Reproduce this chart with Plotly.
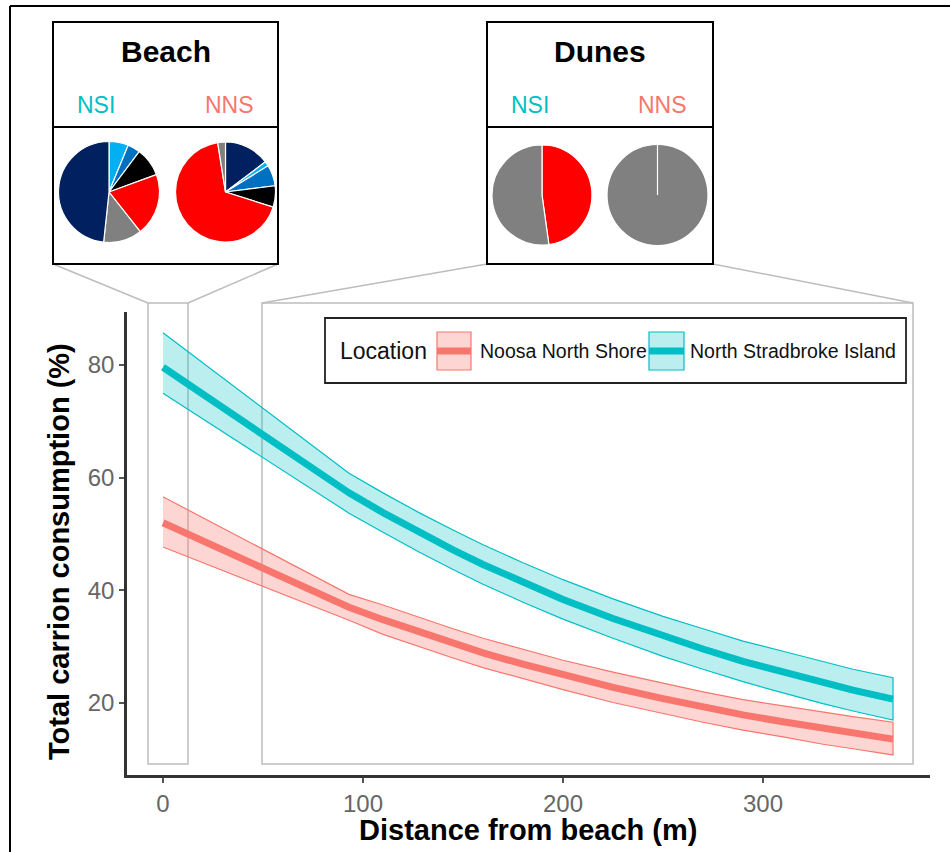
import plotly.graph_objects as go

# ---------------- data ----------------
distance = [0, 93, 110, 128, 145, 160, 180, 200, 225, 250, 270, 290, 310, 330, 345, 365]

nsi_fit = [79.6, 57.3, 53.8, 50.3, 47.2, 44.6, 41.4, 38.4, 35.0, 31.9, 29.6, 27.4, 25.5, 23.6, 22.3, 20.7]
nsi_lo = [75.0, 53.7, 50.3, 46.8, 43.7, 41.1, 37.9, 34.9, 31.5, 28.3, 26.0, 23.8, 21.8, 19.9, 18.6, 17.0]
nsi_hi = [85.7, 60.8, 57.3, 53.8, 50.7, 48.1, 44.9, 41.9, 38.5, 35.4, 33.2, 31.0, 29.2, 27.3, 26.0, 24.5]

nns_fit = [52.0, 37.0, 34.8, 32.6, 30.6, 28.9, 26.9, 25.0, 22.8, 20.8, 19.3, 17.9, 16.7, 15.5, 14.7, 13.6]
nns_lo = [47.7, 34.7, 32.2, 30.0, 28.0, 26.3, 24.3, 22.4, 20.1, 18.1, 16.6, 15.2, 14.0, 12.7, 11.9, 10.8]
nns_hi = [56.6, 39.3, 37.4, 35.2, 33.2, 31.5, 29.5, 27.6, 25.5, 23.5, 22.0, 20.6, 19.5, 18.3, 17.6, 16.6]

series_names = ["Noosa North Shore", "North Stradbroke Island"]
x_ticks = [0, 100, 200, 300]
y_ticks = [20, 40, 60, 80]

# pie compositions (% of carrion consumed by scavenger group), clockwise from 12 o'clock
beach_nsi_labels = ["Group B", "Group C", "Group D", "Group E", "Group F", "Group A"]
beach_nsi_values = [6.2, 4.0, 9.2, 20.0, 12.3, 48.3]
beach_nns_labels = ["Group A", "Group B", "Group C", "Group D", "Group E", "Group F"]
beach_nns_values = [14.7, 1.5, 6.8, 6.9, 67.6, 2.5]
dunes_nsi_labels = ["Group E", "Group F"]
dunes_nsi_values = [47.8, 52.2]
dunes_nns_labels = ["Group F"]
dunes_nns_values = [100.0]

group_colors = {
    "Group A": "#002060",
    "Group B": "#00B0F0",
    "Group C": "#0070C0",
    "Group D": "#000000",
    "Group E": "#FF0000",
    "Group F": "#808080",
}

# ---------------- layout helpers (pixel -> paper) ----------------
W, H = 950, 852
FONT = "Liberation Sans, Arial, Helvetica, sans-serif"
TEAL = "#00BFC4"
SALMON = "#F8766D"


def px(x):
    return x / W


def py(y):
    return 1 - y / H


fig = go.Figure()

# ribbons + fitted lines
for name, fit, lo, hi, col, fillc in [
    (series_names[0], nns_fit, nns_lo, nns_hi, SALMON, "rgba(248,118,109,0.30)"),
    (series_names[1], nsi_fit, nsi_lo, nsi_hi, TEAL, "rgba(0,191,196,0.27)"),
]:
    fig.add_trace(go.Scatter(
        x=distance + distance[::-1], y=hi + lo[::-1],
        fill="toself", fillcolor=fillc, mode="lines",
        line=dict(color=col, width=1.2), showlegend=False, hoverinfo="skip",
        xaxis="x", yaxis="y",
    ))
    fig.add_trace(go.Scatter(
        x=distance, y=fit, mode="lines", name=name,
        line=dict(color=col, width=7), showlegend=False,
        xaxis="x", yaxis="y",
    ))


def add_pie(labels, values, cx, cy, r):
    fig.add_trace(go.Pie(
        labels=labels, values=values, sort=False, direction="clockwise",
        rotation=0, textinfo="none", hoverinfo="label+value",
        marker=dict(colors=[group_colors[l] for l in labels],
                    line=dict(color="white", width=1.2)),
        domain=dict(x=[px(cx - r), px(cx + r)], y=[py(cy + r), py(cy - r)]),
        showlegend=False,
    ))


add_pie(beach_nsi_labels, beach_nsi_values, 109, 192, 50.5)
add_pie(beach_nns_labels, beach_nns_values, 225.5, 192, 50)
add_pie(dunes_nsi_labels, dunes_nsi_values, 542, 195, 50)
add_pie(dunes_nns_labels, dunes_nns_values, 657.5, 195, 50.5)

shapes = []
GREY = "#BDBDBD"


def line(x0, y0, x1, y1, color, width):
    shapes.append(dict(type="line", xref="paper", yref="paper",
                       x0=px(x0), y0=py(y0), x1=px(x1), y1=py(y1),
                       line=dict(color=color, width=width), layer="above"))


def rect(x0, y0, x1, y1, color, width, fill="rgba(0,0,0,0)", layer="above"):
    shapes.append(dict(type="rect", xref="paper", yref="paper",
                       x0=px(x0), y0=py(y1), x1=px(x1), y1=py(y0),
                       line=dict(color=color, width=width), fillcolor=fill, layer=layer))


# zoom rectangles and connectors
rect(148, 303, 188, 764, GREY, 1.5, layer="below")
rect(262, 303, 913, 764, GREY, 1.5, layer="below")
line(53, 264, 148, 303, GREY, 1.5)
line(278, 264, 188, 303, GREY, 1.5)
line(487, 264, 262, 303, GREY, 1.5)
line(713, 264, 913, 303, GREY, 1.5)

# inset boxes
rect(53, 22, 278, 264, "black", 2)
line(53, 127, 278, 127, "black", 2)
rect(487, 22, 713, 264, "black", 2)
line(487, 127, 713, 127, "black", 2)

# white radius line on the single-slice pie
line(657.5, 195, 657.5, 144.5, "white", 1.2)

# outer frame
line(10, 6, 10, 852, "black", 2)
line(10, 6, 950, 6, "black", 2)

# legend box
rect(325, 318, 906, 383, "#222222", 1.8, fill="white")
rect(437, 332, 471, 370, SALMON, 1.2, fill="rgba(248,118,109,0.30)")
line(437, 351, 471, 351, SALMON, 7)
rect(649, 332, 684, 370, TEAL, 1.2, fill="rgba(0,191,196,0.27)")
line(649, 351, 684, 351, TEAL, 7)

annotations = []


def text(t, x, y, size, color="black", bold=False, anchor="center", angle=0):
    if bold:
        t = "<b>" + t + "</b>"
    annotations.append(dict(text=t, x=px(x), y=py(y), xref="paper", yref="paper",
                            showarrow=False, xanchor=anchor, yanchor="middle",
                            textangle=angle,
                            font=dict(family=FONT, size=size, color=color)))


text("Beach", 165.5, 52, 30, bold=True)
text("Dunes", 600, 52, 30, bold=True)
text("NSI", 96, 105, 23, color=TEAL)
text("NNS", 229, 105, 23, color=SALMON)
text("NSI", 530, 105, 23, color=TEAL)
text("NNS", 662, 105, 23, color=SALMON)

text("Location", 338, 351, 23, color="#111111", anchor="left")
text(series_names[0], 478, 351, 19.5, color="#111111", anchor="left")
text(series_names[1], 688, 351, 19.5, color="#111111", anchor="left")

text("Total carrion consumption (%)", 59, 552, 29, bold=True, angle=-90)
text("Distance from beach (m)", 528, 830, 29, bold=True)

fig.update_layout(
    width=W, height=H,
    margin=dict(l=0, r=0, t=0, b=0),
    paper_bgcolor="white", plot_bgcolor="white",
    showlegend=False,
    shapes=shapes, annotations=annotations,
    xaxis=dict(domain=[px(127), px(930)], range=[-18, 383.5],
               tickvals=x_ticks, showgrid=False, zeroline=False,
               showline=True, linecolor="#333333", linewidth=2.5,
               ticks="outside", ticklen=5, tickwidth=1.5, tickcolor="#555555",
               tickfont=dict(family=FONT, size=24, color="#666666")),
    yaxis=dict(domain=[py(775), py(312)], range=[7.24, 89.4],
               tickvals=y_ticks, showgrid=False, zeroline=False,
               showline=True, linecolor="#333333", linewidth=2.5,
               ticks="outside", ticklen=5, tickwidth=1.5, tickcolor="#555555",
               tickfont=dict(family=FONT, size=24, color="#666666")),
)

fig.write_html(
    "out.html",
    config=dict(displayModeBar=False),
    post_script="document.body.style.margin='0px';document.body.style.overflow='hidden';",
)
